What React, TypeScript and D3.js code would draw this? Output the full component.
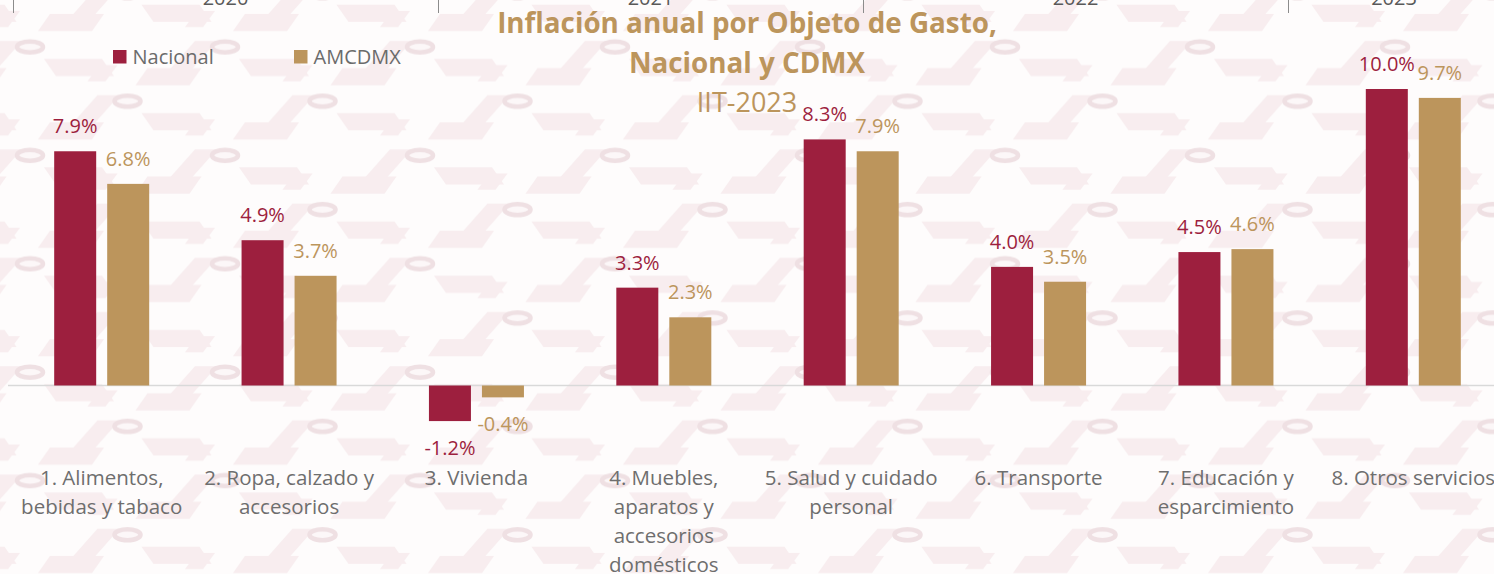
import React from "react";
import * as d3 from "d3";

const categories = [
  ["1. Alimentos,", "bebidas y tabaco"],
  ["2. Ropa, calzado y", "accesorios"],
  ["3. Vivienda"],
  ["4. Muebles,", "aparatos y", "accesorios", "domésticos"],
  ["5. Salud y cuidado", "personal"],
  ["6. Transporte"],
  ["7. Educación y", "esparcimiento"],
  ["8. Otros servicios"],
];
const nacional = [7.9, 4.9, -1.2, 3.3, 8.3, 4.0, 4.5, 10.0];
const amcdmx = [6.8, 3.7, -0.4, 2.3, 7.9, 3.5, 4.6, 9.7];
const seriesNames = ["Nacional", "AMCDMX"];
const years = ["2020", "2021", "2022", "2023"];
const titleLines = ["Inflación anual por Objeto de Gasto,", "Nacional y CDMX"];
const subtitle = "IIT-2023";

const W = 1494;
const H = 574;
const COLORS = ["#9d1f3e", "#bc955c"];
const FONT = "'Open Sans', sans-serif";

const TW = 195;
const TH = 108.4;

function fretShapes(cx: number, cy: number, k: string) {
  const pts = (arr: number[][]) => arr.map((p) => `${cx + p[0]},${cy + p[1]}`).join(" ");
  return (
    <g key={k}>
      <polygon points={pts([[8, -16], [62, -16], [74, -33], [20, -33]])} />
      <polygon points={pts([[14, 12], [72, 12], [84, 29], [26, 29]])} />
      <polygon points={pts([[-62, 30], [-40, 30], [-8, -6], [-30, -6]])} />
      <polygon points={pts([[-40, -20], [-22, -20], [-10, -36], [-28, -36]])} />
    </g>
  );
}

const ringCenters: number[][] = [];
for (const base of [[30, 47], [127.5, 101.2]]) {
  for (const dx of [-TW, 0, TW]) for (const dy of [-TH, 0, TH]) ringCenters.push([base[0] + dx, base[1] + dy]);
}

export default function App() {
  const keys = categories.map((_, i) => String(i));
  const x = d3.scaleBand<string>().domain(keys).range([8, 1507]).padding(0);
  const bw = x.bandwidth();
  const inner = d3
    .scaleBand<string>()
    .domain(seriesNames)
    .range([bw * 0.2465, bw * 0.7535])
    .paddingInner(0.2075);
  const y = d3.scaleLinear().domain([0, 10]).range([385.5, 89]);
  const yearX = d3.scaleBand<string>().domain(years).range([13, 1713]);
  const fmt = (v: number) => (v < 0 ? "-" : "") + d3.format(".1f")(Math.abs(v)) + "%";
  const series = [nacional, amcdmx];

  return (
    <svg
      width={W}
      height={H}
      style={{ position: "absolute", left: 0, top: 0, display: "block" }}
      fontFamily={FONT}
    >
      <defs>
        <pattern id="bgpat" patternUnits="userSpaceOnUse" width={TW} height={TH}>
          <rect width={TW} height={TH} fill="#fefcfc" />
          <g fill="#f8edef">{ringCenters.map((c, i) => fretShapes(c[0], c[1], "f" + i))}</g>
          <g fill="#fcf7f8" stroke="#efe0e3" strokeWidth={4.5}>
            {ringCenters.map((c, i) => (
              <ellipse key={"r" + i} cx={c[0]} cy={c[1]} rx={13} ry={5.5} />
            ))}
          </g>
        </pattern>
      </defs>
      <rect x={0} y={0} width={W} height={H} fill="url(#bgpat)" />

      {/* secondary year axis, cut at top */}
      <g>
        {years.map((yr) => {
          const x0 = yearX(yr)!;
          return <line key={"t" + yr} x1={x0 + 0.5} x2={x0 + 0.5} y1={0} y2={13} stroke="#8c8c8c" strokeWidth={1} />;
        })}
        {years.map((yr) => {
          const x0 = yearX(yr)!;
          const x1 = Math.min(x0 + yearX.bandwidth(), 1500);
          return (
            <text key={yr} x={(x0 + x1) / 2} y={5} textAnchor="middle" fontSize={20} fill="#595959">
              {yr}
            </text>
          );
        })}
      </g>

      {/* baseline */}
      <line x1={8} x2={W} y1={y(0)} y2={y(0)} stroke="#d9d9d9" strokeWidth={1.5} />

      {/* bars */}
      {series.map((vals, si) =>
        vals.map((v, i) => {
          const bx = x(keys[i])! + inner(seriesNames[si])!;
          const y0 = y(Math.max(0, v));
          const y1 = y(Math.min(0, v));
          return (
            <rect key={si + "-" + i} x={bx} y={y0} width={inner.bandwidth()} height={y1 - y0} fill={COLORS[si]} />
          );
        })
      )}

      {/* data labels */}
      {series.map((vals, si) =>
        vals.map((v, i) => {
          const cx = x(keys[i])! + inner(seriesNames[si])! + inner.bandwidth() / 2;
          const ty = v >= 0 ? y(v) - 18 : y(v) + 34;
          return (
            <text key={"l" + si + "-" + i} x={cx} y={ty} textAnchor="middle" fontSize={20} fill={COLORS[si]}>
              {fmt(v)}
            </text>
          );
        })
      )}

      {/* category labels */}
      {categories.map((lines, i) => (
        <text key={"c" + i} x={x(keys[i])! + bw / 2} y={485} textAnchor="middle" fontSize={20.5} fill="#6e6e6e">
          {lines.map((ln, j) => (
            <tspan key={j} x={x(keys[i])! + bw / 2} dy={j === 0 ? 0 : 29}>
              {ln}
            </tspan>
          ))}
        </text>
      ))}

      {/* legend */}
      {seriesNames.map((name, si) => {
        const lx = [113, 294][si];
        return (
          <g key={name}>
            <rect x={lx} y={50} width={13.5} height={13.5} fill={COLORS[si]} />
            <text x={lx + 19.5} y={64} fontSize={20} fill="#6b6b6b">
              {name}
            </text>
          </g>
        );
      })}

      {/* title */}
      {titleLines.map((t, i) => (
        <text key={t} x={747} y={33 + i * 40} textAnchor="middle" fontSize={27.8} fontWeight="bold" fill="#bc955c">
          {t}
        </text>
      ))}
      <text x={747} y={112} textAnchor="middle" fontSize={27} fill="#bc955c">
        {subtitle}
      </text>
    </svg>
  );
}
